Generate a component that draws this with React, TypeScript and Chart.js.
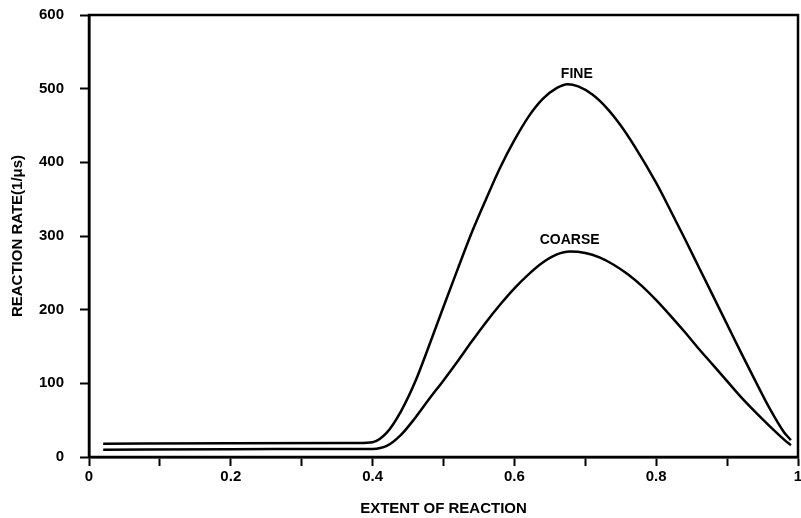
import React, { useEffect, useRef } from "react";
import { Chart, registerables } from "chart.js";

Chart.register(...registerables);

const extent = [0.02, 0.2, 0.38, 0.4, 0.42, 0.44, 0.46, 0.48, 0.5, 0.52, 0.54, 0.56, 0.58, 0.6, 0.62, 0.64, 0.66, 0.675, 0.69, 0.71, 0.73, 0.75, 0.77, 0.8, 0.82, 0.84, 0.86, 0.88, 0.9, 0.92, 0.94, 0.96, 0.98, 0.99];
const fineRate = [18, 18.5, 19, 20, 33, 62, 102, 152, 204, 255, 305, 350, 393, 430, 462, 486, 501, 506, 503, 492, 474, 450, 421, 372, 335, 297, 258, 219, 180, 141, 103, 66, 34, 23];
const extentCoarse = [0.02, 0.2, 0.38, 0.4, 0.42, 0.44, 0.46, 0.48, 0.5, 0.52, 0.54, 0.56, 0.58, 0.6, 0.62, 0.64, 0.66, 0.678, 0.7, 0.72, 0.74, 0.76, 0.78, 0.8, 0.82, 0.84, 0.86, 0.88, 0.9, 0.92, 0.94, 0.96, 0.98, 0.99];
const coarseRate = [10, 10.5, 11, 11, 15, 30, 53, 79, 104, 130, 157, 183, 207, 229, 248, 264, 275, 279, 277, 271, 261, 248, 232, 213, 192, 170, 147, 125, 103, 81, 61, 42, 24, 16];
const xTicks = ["0", "0.2", "0.4", "0.6", "0.8", "1"];
const seriesLabels = [
  { text: "FINE", x: 0.688, y: 520 },
  { text: "COARSE", x: 0.678, y: 294 },
];

const FONT = "'Liberation Sans', Arial, sans-serif";

export default function App() {
  const ref = useRef<HTMLCanvasElement>(null);
  useEffect(() => {
    document.body.style.margin = "0";
    const ctx = ref.current!;
    const frame = {
      id: "frame",
      afterDatasetsDraw(chart: any) {
        const { ctx, chartArea } = chart;
        ctx.save();
        ctx.strokeStyle = "#000";
        ctx.lineWidth = 2.5;
        ctx.strokeRect(chartArea.left, chartArea.top, chartArea.right - chartArea.left, chartArea.bottom - chartArea.top);
        ctx.fillStyle = "#000";
        ctx.font = `bold 14px ${FONT}`;
        ctx.textAlign = "center";
        ctx.textBaseline = "middle";
        const xs = chart.scales.x;
        const ys = chart.scales.y;
        for (const l of seriesLabels) {
          ctx.fillText(l.text, xs.getPixelForValue(l.x), ys.getPixelForValue(l.y));
        }
        ctx.restore();
      },
    };
    const chart = new Chart(ctx, {
      type: "line",
      data: {
        datasets: [
          {
            label: "FINE",
            data: extent.map((x, i) => ({ x, y: fineRate[i] })),
            borderColor: "#000",
            borderWidth: 2.5,
            pointRadius: 0,
            cubicInterpolationMode: "monotone",
          },
          {
            label: "COARSE",
            data: extentCoarse.map((x, i) => ({ x, y: coarseRate[i] })),
            borderColor: "#000",
            borderWidth: 2.5,
            pointRadius: 0,
            cubicInterpolationMode: "monotone",
          },
        ],
      },
      plugins: [frame],
      options: {
        animation: false,
        responsive: false,
        layout: { padding: { top: 15, right: 3, left: 0, bottom: 0 } },
        plugins: { legend: { display: false }, tooltip: { enabled: false } },
        scales: {
          x: {
            type: "linear",
            min: 0,
            max: 1,
            afterFit(scale: any) {
              scale.height = 61;
              scale.paddingRight = 0;
              scale.paddingLeft = 0;
            },
            ticks: {
              stepSize: 0.1,
              autoSkip: false,
              maxRotation: 0,
              padding: 2,
              color: "#000",
              font: { family: FONT, size: 15, weight: "bold" },
              callback: (v: any) => {
                const k = Math.round(Number(v) * 10);
                return k % 2 === 0 ? xTicks[k / 2] : "";
              },
            },
            grid: { drawOnChartArea: false, tickLength: 9, tickWidth: 2, color: "#000" },
            border: { display: true, color: "#000", width: 2.5 },
            title: {
              display: true,
              text: "EXTENT OF REACTION",
              color: "#000",
              font: { family: FONT, size: 15, weight: "bold" },
              padding: { top: 6, bottom: 0 },
            },
          },
          y: {
            min: 0,
            max: 600,
            afterFit(scale: any) {
              scale.width = 89;
              scale.paddingTop = 0;
              scale.paddingBottom = 0;
            },
            ticks: {
              stepSize: 100,
              padding: 16,
              color: "#000",
              font: { family: FONT, size: 15, weight: "bold" },
            },
            grid: { drawOnChartArea: false, tickLength: 9, tickWidth: 2, color: "#000" },
            border: { display: true, color: "#000", width: 2.5 },
            title: {
              display: true,
              text: "REACTION RATE(1/μs)",
              color: "#000",
              font: { family: FONT, size: 15, weight: "bold" },
              padding: { top: 9, bottom: 0 },
            },
          },
        },
      },
    } as any);
    return () => chart.destroy();
  }, []);
  return <canvas ref={ref} width={801} height={518} style={{ display: "block" }} />;
}
